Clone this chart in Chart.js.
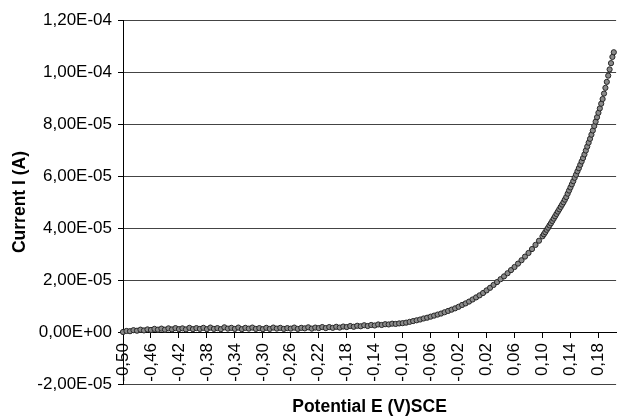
<!DOCTYPE html>
<html>
<head>
<meta charset="utf-8">
<script src="https://cdn.jsdelivr.net/npm/chart.js@4.4.1/dist/chart.umd.min.js"></script>
<style>
  html, body { margin: 0; padding: 0; background: #fff; }
</style>
</head>
<body>
<canvas id="curve" width="625" height="420"></canvas>
<script>
// potential (V vs SCE)
const potentials = [
  -0.500,-0.495,-0.490,-0.485,-0.480,-0.475,-0.470,-0.465,-0.460,-0.455,
  -0.450,-0.445,-0.440,-0.435,-0.430,-0.425,-0.420,-0.415,-0.410,-0.405,
  -0.400,-0.395,-0.390,-0.385,-0.380,-0.375,-0.370,-0.365,-0.360,-0.355,
  -0.350,-0.345,-0.340,-0.335,-0.330,-0.325,-0.320,-0.315,-0.310,-0.305,
  -0.300,-0.295,-0.290,-0.285,-0.280,-0.275,-0.270,-0.265,-0.260,-0.255,
  -0.250,-0.245,-0.240,-0.235,-0.230,-0.225,-0.220,-0.215,-0.210,-0.205,
  -0.200,-0.195,-0.190,-0.185,-0.180,-0.175,-0.170,-0.165,-0.160,-0.155,
  -0.150,-0.145,-0.140,-0.135,-0.130,-0.125,-0.120,-0.115,-0.110,-0.105,
  -0.100,-0.095,-0.090,-0.085,-0.080,-0.075,-0.070,-0.065,-0.060,-0.055,
  -0.050,-0.045,-0.040,-0.035,-0.030,-0.025,-0.020,-0.015,-0.010,-0.005,
  0.000,0.005,0.010,0.015,0.020,0.025,0.030,0.035,0.040,0.045,
  0.050,0.055,0.060,0.065,0.070,0.075,0.080,0.085,0.090,0.095,
  0.100,0.102,0.104,0.106,0.108,0.110,0.112,0.114,0.116,0.118,
  0.120,0.122,0.124,0.126,0.128,0.130,0.132,0.134,0.136,0.138,
  0.140,0.142,0.144,0.146,0.148,0.150,0.152,0.154,0.156,0.158,
  0.160,0.162,0.164,0.166,0.168,0.170,0.172,0.174,0.176,0.178,
  0.180,0.182,0.184,0.186,0.188,0.190,0.192,0.194,0.196,0.198,
  0.200,0.202
];

// current in microamps
const currentsMicroA = [
  0.0,0.4,0.3,0.7,0.5,0.9,0.6,1.0,0.8,1.2,
  0.9,1.3,0.9,1.4,1.0,1.5,1.1,1.4,1.0,1.6,
  1.1,1.5,1.2,1.6,1.1,1.7,1.2,1.5,1.1,1.8,
  1.3,1.6,1.2,1.7,1.1,1.6,1.3,1.7,1.2,1.5,
  1.1,1.6,1.2,1.7,1.3,1.6,1.2,1.5,1.3,1.7,
  1.2,1.6,1.4,1.8,1.3,1.7,1.5,1.9,1.5,1.9,
  1.6,2.0,1.7,2.1,1.9,2.3,2.0,2.4,2.2,2.6,
  2.3,2.7,2.5,2.9,2.7,3.0,2.9,3.2,3.1,3.3,
  3.4,3.6,3.9,4.2,4.5,4.8,5.2,5.5,5.9,6.3,
  6.7,7.1,7.6,8.1,8.6,9.1,9.7,10.4,11.0,11.7,
  12.5,13.3,14.1,15.0,16.0,17.0,18.1,19.2,20.3,21.4,
  22.6,23.8,25.0,26.3,27.6,29.0,30.4,31.9,33.5,35.1,
  36.8,37.6,38.4,39.3,40.1,41.0,41.8,42.7,43.6,44.5,
  45.4,46.3,47.2,48.1,49.0,49.9,50.9,51.9,53.2,54.4,
  55.6,56.8,58.0,59.3,60.5,61.8,63.0,64.3,65.6,66.9,
  68.3,69.8,71.3,72.8,74.3,75.9,77.5,79.2,80.9,82.6,
  84.3,86.0,87.8,89.6,91.7,93.9,96.2,98.6,101.0,103.4,
  105.8,107.6
];

const xTickValues = [-0.50,-0.46,-0.42,-0.38,-0.34,-0.30,-0.26,-0.22,-0.18,-0.14,
                     -0.10,-0.06,-0.02,0.02,0.06,0.10,0.14,0.18];
const yTickValues = [-2e-5, 0, 2e-5, 4e-5, 6e-5, 8e-5, 1e-4, 1.2e-4];

const xTitle = 'Potential E (V)SCE';
const yTitle = 'Current I (A)';

// excel style 1,20E-04
function sciLabel(v) {
  let parts = Number(v).toExponential(2).split('e');
  let sign = parts[1].charAt(0) === '-' ? '-' : '+';
  let exp = parts[1].replace(/[+-]/, '');
  if (exp.length < 2) exp = '0' + exp;
  return parts[0].replace('.', ',') + 'E' + sign + exp;
}

Chart.defaults.font.family = "'Liberation Sans', Arial, sans-serif";
Chart.defaults.color = '#000';

const points = potentials.map((e, i) => ({ x: e, y: currentsMicroA[i] * 1e-6 }));

new Chart(document.getElementById('curve').getContext('2d'), {
  type: 'scatter',
  data: {
    datasets: [{
      data: points,
      showLine: false,
      pointRadius: 2.6,
      pointBorderWidth: 1,
      pointBackgroundColor: '#8a8a8a',
      pointBorderColor: '#262626',
      clip: false
    }]
  },
  options: {
    responsive: false,
    animation: false,
    devicePixelRatio: 1,
    layout: { padding: { top: 20, right: 0, bottom: 36, left: 0 } },
    plugins: { legend: { display: false }, tooltip: { enabled: false } },
    scales: {
      x: {
        type: 'linear',
        min: -0.5,
        max: 0.2053,
        position: { y: 0 },
        afterBuildTicks: (s) => { s.ticks = xTickValues.map(v => ({ value: v })); },
        afterFit: (s) => { s.height = 89.5; },
        ticks: {
          autoSkip: false,
          minRotation: 90,
          maxRotation: 90,
          padding: 6,
          font: { size: 17 },
          callback: (v) => Number(v).toFixed(2).replace('.', ',')
        },
        grid: { display: true, drawOnChartArea: false, drawTicks: true, tickLength: 5, tickColor: '#000' },
        border: { display: true, color: '#000', width: 1 },
        title: { display: true, text: xTitle, font: { size: 17.5, weight: 'bold' }, padding: { top: 4, bottom: 4 } }
      },
      y: {
        type: 'linear',
        min: -2e-5,
        max: 1.2e-4,
        afterBuildTicks: (s) => { s.ticks = yTickValues.map(v => ({ value: v })); },
        afterFit: (s) => { s.width = 123; },
        ticks: {
          padding: 6,
          font: { size: 17 },
          callback: (v) => sciLabel(v)
        },
        grid: { color: '#444', lineWidth: 1, drawTicks: true, tickLength: 5, tickColor: '#000' },
        border: { display: true, color: '#000', width: 1 },
        title: { display: true, text: yTitle, font: { size: 17.5, weight: 'bold' }, padding: { top: 9.5, bottom: 0 } }
      }
    }
  }
});
</script>
</body>
</html>
